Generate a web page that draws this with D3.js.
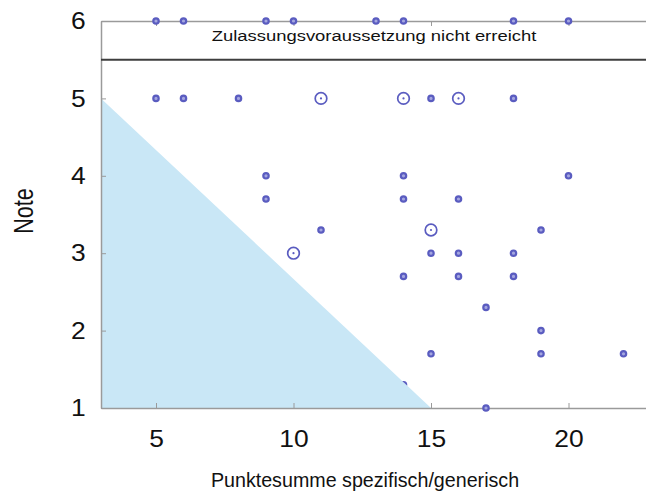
<!DOCTYPE html>
<html>
<head>
<meta charset="utf-8">
<script src="https://cdn.jsdelivr.net/npm/d3@7"></script>
<style>
  html, body { margin: 0; padding: 0; background: #fff; }
  svg { display: block; }
  text { font-family: "Liberation Sans", Arial, Helvetica, sans-serif; fill: #111; }
</style>
</head>
<body>
<svg id="chart" width="646" height="501"></svg>
<script>
// ---- data ----
const xTicks = [5, 10, 15, 20];
const yTicks = [1, 2, 3, 4, 5, 6];
const xDomain = [3, 23];
const yDomain = [1, 6];
// Punktesumme (x), Note (y), Anzahl (count: 2 = larger circle)
const punkte = [5, 6, 9, 10, 13, 14, 18, 20,
                5, 6, 8, 11, 14, 15, 16, 18,
                9, 14, 20,
                9, 14, 16,
                11, 15, 19,
                10, 15, 16, 18,
                14, 16, 18,
                17,
                19,
                15, 19, 22,
                17,
                14];
const noten  = [6, 6, 6, 6, 6, 6, 6, 6,
                5, 5, 5, 5, 5, 5, 5, 5,
                4.0, 4.0, 4.0,
                3.7, 3.7, 3.7,
                3.3, 3.3, 3.3,
                3.0, 3.0, 3.0, 3.0,
                2.7, 2.7, 2.7,
                2.3,
                2.0,
                1.7, 1.7, 1.7,
                1.0,
                1.3];
const anzahl = [1, 1, 1, 1, 1, 1, 1, 1,
                1, 1, 1, 2, 2, 1, 2, 1,
                1, 1, 1,
                1, 1, 1,
                1, 2, 1,
                2, 1, 1, 1,
                1, 1, 1,
                1,
                1,
                1, 1, 1,
                1,
                1];
// shaded region: Note < 6 - Punkte/3
const triangleX = [3, 3, 15];
const triangleY = [5, 1, 1];
const schwelle = 5.5;
const schwelleLabel = "Zulassungsvoraussetzung nicht erreicht";
const xTitle = "Punktesumme spezifisch/generisch";
const yTitle = "Note";

// ---- drawing ----
const svg = d3.select("#chart");
const xS = d3.scaleLinear().domain(xDomain).range([101, 651]);
const yS = d3.scaleLinear().domain(yDomain).range([408, 21]);
const ptColor = "#5a5cc0";
const axisColor = "#9a9a9a";

const data = punkte.map((p, i) => ({ x: p, y: noten[i], n: anzahl[i] }));
const triLine = v => 6 - v / 3;
const under = data.filter(d => d.y < triLine(d.x));
const over = data.filter(d => !(d.y < triLine(d.x)));

function drawPoints(g, arr) {
  const sel = g.selectAll("g.pt").data(arr).join("g").attr("class", "pt")
    .attr("transform", d => `translate(${xS(d.x)},${yS(d.y)})`);
  sel.append("circle")
    .attr("r", d => d.n > 1 ? 5.8 : 2.7)
    .attr("fill", d => d.n > 1 ? "none" : "#a4a6e0")
    .attr("stroke", ptColor)
    .attr("stroke-width", d => d.n > 1 ? 1.7 : 2.2);
  sel.filter(d => d.n > 1).append("circle")
    .attr("r", 1.1).attr("fill", ptColor);
}

// points hidden under the shaded triangle
drawPoints(svg.append("g"), under);

// triangle
const tri = triangleX.map((v, i) => [xS(v), yS(triangleY[i])]);
svg.append("path")
  .attr("d", d3.line()(tri) + "Z")
  .attr("fill", "#c9e7f6");

// axes (ticks inward on all sides)
const ax = svg.append("g");
ax.append("g").attr("transform", `translate(0,${yS(1)})`)
  .call(d3.axisBottom(xS).tickValues(xTicks).tickFormat(d3.format("d"))
    .tickSizeInner(-5).tickSizeOuter(0).tickPadding(22));
ax.append("g").attr("transform", `translate(0,${yS(6)})`)
  .call(d3.axisTop(xS).tickValues(xTicks).tickSizeInner(-5).tickSizeOuter(0).tickFormat(""));
ax.append("g").attr("transform", `translate(${xS(3)},0)`)
  .call(d3.axisLeft(yS).tickValues(yTicks).tickFormat(d3.format("d"))
    .tickSizeInner(-5).tickSizeOuter(0).tickPadding(14));
ax.append("g").attr("transform", `translate(${xS(23)},0)`)
  .call(d3.axisRight(yS).tickValues(yTicks).tickSizeInner(-5).tickSizeOuter(0).tickFormat(""));

ax.selectAll(".domain").attr("stroke", axisColor).attr("stroke-width", 1.5);
ax.selectAll(".tick line").attr("stroke", axisColor).attr("stroke-width", 1);
ax.selectAll(".tick text")
  .attr("font-family", "'Liberation Sans', Arial, Helvetica, sans-serif")
  .attr("font-size", 24)
  .attr("fill", "#111")
  .attr("transform", "scale(1.1,1)");

// threshold line
svg.append("line")
  .attr("x1", xS(3)).attr("x2", xS(23))
  .attr("y1", yS(schwelle)).attr("y2", yS(schwelle))
  .attr("stroke", "#3e3e3e").attr("stroke-width", 2);

svg.append("text")
  .attr("transform", `translate(${(xS(3) + xS(23)) / 2 - 2},41) scale(1.19,1)`)
  .attr("text-anchor", "middle")
  .attr("font-size", 15.5)
  .text(schwelleLabel);

// visible points
drawPoints(svg.append("g"), over);

// axis titles
svg.append("text")
  .attr("transform", "translate(365,487) scale(0.96,1)")
  .attr("text-anchor", "middle")
  .attr("font-size", 20.5)
  .text(xTitle);

svg.append("text")
  .attr("transform", "translate(33,211) rotate(-90) scale(0.8,1)")
  .attr("text-anchor", "middle")
  .attr("font-size", 27)
  .text(yTitle);
</script>
</body>
</html>
